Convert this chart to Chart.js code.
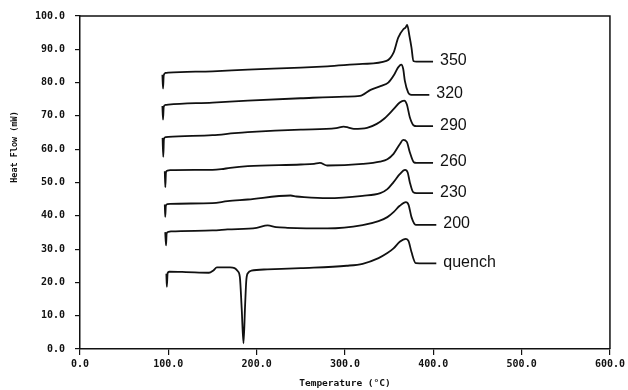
<!DOCTYPE html>
<html>
<head>
<meta charset="utf-8">
<script src="https://cdn.jsdelivr.net/npm/chart.js@4.4.0/dist/chart.umd.min.js"></script>
<style>
  html, body { margin: 0; padding: 0; background: #fff; }
  #wrap { width: 628px; height: 390px; }
</style>
</head>
<body>
<div id="wrap"><canvas id="dsc"></canvas></div>
<script>
// curve labels (annealing temperature), top to bottom
var curveNames = ['350', '320', '290', '260', '230', '200', 'quench'];

// temperature (C) / heat flow (mW)
var temp350 = [93.3, 94.0, 94.8, 97, 100, 150, 190, 250, 280, 320, 347, 355, 360.3, 366.3, 368.5, 370.4, 373, 375.3, 377.5, 380.9, 399.7];
var heat350 = [82.4, 78.2, 82.2, 82.9, 83.0, 83.4, 83.9, 84.5, 84.9, 85.6, 86.5, 89.0, 93.5, 96.1, 96.5, 97.3, 94.0, 90.5, 86.5, 86.3, 86.3];

var temp320 = [93.3, 94.0, 94.8, 97, 100, 150, 190, 250, 300, 317, 329, 341, 349, 356, 360, 363.7, 366, 367.8, 371.6, 374, 377.2, 395.5];
var heat320 = [73.0, 68.9, 72.8, 73.3, 73.4, 74.0, 74.6, 75.3, 75.8, 76.0, 77.8, 79.0, 80.0, 82.5, 84.5, 85.4, 84.0, 80.5, 77.0, 76.4, 76.3, 76.3];

var temp290 = [93.5, 94.3, 95.0, 97, 100, 150, 175, 190, 250, 290, 298.5, 304, 310, 325, 336, 345, 355, 362, 367, 370, 373.4, 377.9, 380.9, 399.7];
var heat290 = [63.4, 57.7, 63.0, 63.6, 63.7, 64.2, 64.8, 65.1, 65.9, 66.3, 66.8, 66.5, 66.1, 66.4, 67.6, 69.3, 72.0, 74.0, 74.6, 73.5, 69.6, 67.1, 66.9, 66.9];

var temp260 = [96.0, 96.6, 97.3, 99, 102, 150, 160, 170, 190, 250, 265, 271.6, 280, 320, 339.7, 348, 355, 362, 366, 370, 373.4, 377.9, 380.9, 399.7];
var heat260 = [53.4, 48.6, 53.0, 53.6, 53.7, 53.8, 54.0, 54.4, 54.9, 55.4, 55.6, 55.9, 55.1, 55.6, 56.3, 57.0, 58.6, 61.5, 62.8, 62.2, 59.1, 56.1, 55.9, 55.9];

var temp230 = [96.0, 96.5, 97.2, 99, 102, 150, 167, 190, 238.5, 245, 253.6, 280, 320, 340, 348, 355, 362, 368, 371, 373.4, 377.2, 380.9, 399.7];
var heat230 = [43.4, 39.7, 43.0, 43.5, 43.6, 43.8, 44.4, 44.9, 46.1, 45.8, 45.6, 45.3, 46.0, 46.8, 48.0, 50.1, 52.5, 53.8, 53.0, 50.1, 47.1, 46.8, 46.8];

var temp200 = [96.5, 97.4, 98.1, 100, 103, 150, 167, 200, 212.4, 222, 234.8, 280, 320, 338, 348, 355, 362, 369, 372, 375.3, 380.1, 403.4];
var heat200 = [35.1, 31.1, 34.7, 35.2, 35.3, 35.6, 35.9, 36.4, 37.1, 36.6, 36.4, 36.2, 37.2, 38.4, 39.6, 41.1, 43.0, 44.1, 43.3, 39.6, 37.3, 37.3];

var tempQ = [97.8, 98.3, 99.2, 101, 120, 146, 151, 155, 170, 175, 178.5, 181, 183.1, 185.1, 186.9, 188.4, 190.5, 194, 212, 250, 302, 320, 338, 348, 355, 362, 369, 372, 375.3, 380.1, 403.4];
var heatQ = [22.6, 18.7, 22.8, 23.2, 23.1, 22.9, 23.6, 24.5, 24.5, 24.3, 23.4, 21.6, 12.0, 1.7, 13.0, 21.0, 22.9, 23.5, 23.9, 24.3, 25.0, 25.6, 27.3, 28.8, 30.2, 32.2, 33.1, 32.4, 29.1, 25.8, 25.7];

// axis ticks
var xTicks = [0, 100, 200, 300, 400, 500, 600];
var yTicks = [0, 10, 20, 30, 40, 50, 60, 70, 80, 90, 100];

var temps = [temp350, temp320, temp290, temp260, temp230, temp200, tempQ];
var heats = [heat350, heat320, heat290, heat260, heat230, heat200, heatQ];

function zip(t, h) {
  var pts = [];
  for (var i = 0; i < t.length; i++) pts.push({x: t[i], y: h[i]});
  return pts;
}

var sets = [];
for (var k = 0; k < curveNames.length; k++) {
  sets.push({
    label: curveNames[k],
    data: zip(temps[k], heats[k]),
    borderColor: '#111',
    borderWidth: 1.8,
    pointRadius: 0,
    fill: false,
    cubicInterpolationMode: 'monotone'
  });
}

var tickFont = {family: 'DejaVu Sans Mono', size: 10, weight: 'bold'};

// curve names at the right-hand end of every trace, plus frame and y title
var extras = {
  id: 'extras',
  afterDatasetsDraw: function(chart) {
    var ctx = chart.ctx;
    ctx.save();
    ctx.font = '16px "Liberation Sans"';
    ctx.fillStyle = '#111';
    ctx.textBaseline = 'middle';
    ctx.textAlign = 'left';
    chart.data.datasets.forEach(function(ds, i) {
      var pts = chart.getDatasetMeta(i).data;
      var last = pts[pts.length - 1];
      ctx.fillText(ds.label, last.x + 7, last.y - 1);
    });
    var a = chart.chartArea;
    ctx.strokeStyle = '#111';
    ctx.lineWidth = 1.5;
    ctx.beginPath();
    ctx.moveTo(a.left, a.top);
    ctx.lineTo(a.right, a.top);
    ctx.lineTo(a.right, a.bottom);
    ctx.stroke();

    ctx.translate(15, 147);
    ctx.rotate(-Math.PI / 2);
    ctx.font = 'bold 8.5px "DejaVu Sans Mono"';
    ctx.textAlign = 'center';
    ctx.fillText('Heat Flow (mW)', 0, 0);
    ctx.restore();
  }
};

var chart = new Chart(document.getElementById('dsc'), {
  type: 'line',
  data: {datasets: sets},
  plugins: [extras],
  options: {
    responsive: true,
    maintainAspectRatio: false,
    animation: false,
    layout: {padding: {top: 14, right: 14, left: 0, bottom: 0}},
    plugins: {legend: {display: false}, tooltip: {enabled: false}},
    scales: {
      x: {
        type: 'linear',
        min: 0,
        max: 600,
        afterFit: function(s) { s.height = 41; },
        afterBuildTicks: function(s) { s.ticks = xTicks.map(function(v) { return {value: v}; }); },
        ticks: {
          color: '#111',
          font: tickFont,
          padding: 3,
          maxRotation: 0,
          callback: function(v) { return v.toFixed(1); }
        },
        grid: {drawOnChartArea: false, color: '#111', tickLength: 6, lineWidth: 1.2},
        border: {color: '#111', width: 1.5},
        title: {
          display: true,
          text: 'Temperature (\u00b0C)',
          color: '#111',
          font: {family: 'DejaVu Sans Mono', size: 9.5, weight: 'bold'},
          padding: {top: 0, bottom: 1}
        }
      },
      y: {
        min: 0,
        max: 100,
        afterFit: function(s) { s.width = 80; },
        afterBuildTicks: function(s) { s.ticks = yTicks.map(function(v) { return {value: v}; }); },
        ticks: {
          color: '#111',
          font: tickFont,
          padding: 10,
          callback: function(v) { return v.toFixed(1); }
        },
        grid: {drawOnChartArea: false, color: '#111', tickLength: 5, lineWidth: 1.2},
        border: {color: '#111', width: 1.5}
      }
    }
  }
});
</script>
</body>
</html>
